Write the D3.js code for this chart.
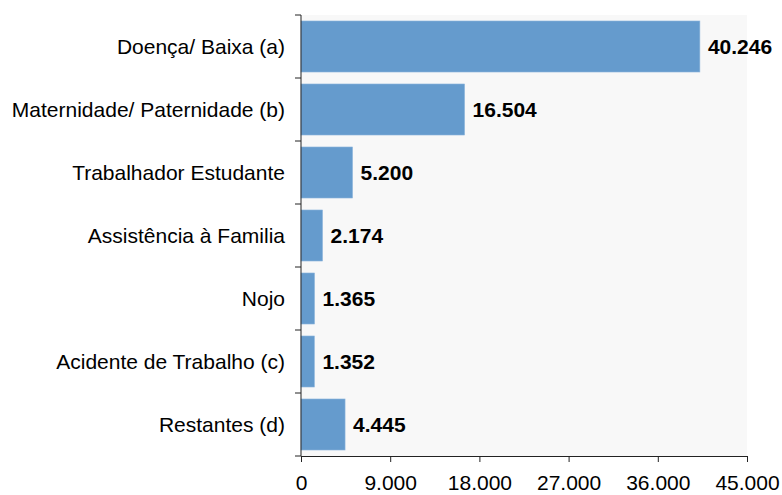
<!DOCTYPE html>
<html>
<head>
<meta charset="utf-8">
<script src="https://cdn.jsdelivr.net/npm/d3@7"></script>
<style>
  body { margin: 0; background: #fff; }
  text { font-family: "Liberation Sans", Arial, sans-serif; }
</style>
</head>
<body>
<div id="chart"></div>
<script>
var categories = ["Doença/ Baixa (a)", "Maternidade/ Paternidade (b)", "Trabalhador Estudante",
    "Assistência à Familia", "Nojo", "Acidente de Trabalho (c)", "Restantes (d)"];
var values = [40246, 16504, 5200, 2174, 1365, 1352, 4445];
var valueLabels = ["40.246", "16.504", "5.200", "2.174", "1.365", "1.352", "4.445"];
var xTicks = [0, 9000, 18000, 27000, 36000, 45000];
var xTickLabels = ["0", "9.000", "18.000", "27.000", "36.000", "45.000"];

var m = [15, 35, 39, 301]; // top, right, bottom, left
var W = 782, H = 495;
var w = W - m[1] - m[3];
var h = H - m[0] - m[2];

var svg = d3.select("#chart").append("svg")
    .attr("width", W)
    .attr("height", H);
var g = svg.append("g")
    .attr("transform", "translate(" + m[3] + "," + m[0] + ")");

var x = d3.scaleLinear().domain([0, 45000]).range([0, w]);
var y = d3.scaleBand().domain(categories).range([0, h]).paddingInner(0.19).paddingOuter(0.095);

// plot background
g.append("rect")
    .attr("width", w)
    .attr("height", h)
    .attr("fill", "#f8f8f8");

// bars
g.selectAll("rect.bar")
    .data(values)
  .enter().append("rect")
    .attr("class", "bar")
    .attr("x", x(0))
    .attr("y", function(d, i) { return y(categories[i]); })
    .attr("width", function(d) { return x(d) - x(0); })
    .attr("height", y.bandwidth())
    .attr("fill", "#659bcd")
    .attr("stroke", "#8fb6dc")
    .attr("stroke-width", 0.6);

// value labels
g.selectAll("text.val")
    .data(values)
  .enter().append("text")
    .attr("class", "val")
    .attr("x", function(d) { return x(d) + 8; })
    .attr("y", function(d, i) { return y(categories[i]) + y.bandwidth() / 2; })
    .attr("dy", "0.36em")
    .attr("font-size", "21px")
    .attr("font-weight", "bold")
    .attr("fill", "#000")
    .text(function(d, i) { return valueLabels[i]; });

// category axis (ticks at band boundaries)
var bounds = d3.range(categories.length + 1).map(function(i) { return i * h / categories.length; });
var yAxis = g.append("g").attr("class", "y axis");
yAxis.append("line")
    .attr("x1", 0).attr("x2", 0)
    .attr("y1", 0).attr("y2", h)
    .attr("stroke", "#222");
yAxis.selectAll("line.tick")
    .data(bounds)
  .enter().append("line")
    .attr("class", "tick")
    .attr("x1", -6).attr("x2", 0)
    .attr("y1", function(d) { return d; })
    .attr("y2", function(d) { return d; })
    .attr("stroke", "#222");
yAxis.selectAll("text")
    .data(categories)
  .enter().append("text")
    .attr("x", -16)
    .attr("y", function(d) { return y(d) + y.bandwidth() / 2; })
    .attr("dy", "0.36em")
    .attr("text-anchor", "end")
    .attr("font-size", "21px")
    .attr("fill", "#000")
    .text(function(d) { return d; });

// value axis
var xAxis = d3.axisBottom(x)
    .tickValues(xTicks)
    .tickSize(6)
    .tickPadding(13)
    .tickFormat(function(d, i) { return xTickLabels[i]; });
var gx = g.append("g")
    .attr("class", "x axis")
    .attr("transform", "translate(0," + h + ")")
    .call(xAxis);
gx.select(".domain").attr("stroke", "#222");
gx.selectAll(".tick line").attr("stroke", "#222");
gx.selectAll("text")
    .attr("font-size", "21px")
    .attr("font-family", "Liberation Sans, Arial, sans-serif")
    .attr("fill", "#000");
</script>
</body>
</html>
